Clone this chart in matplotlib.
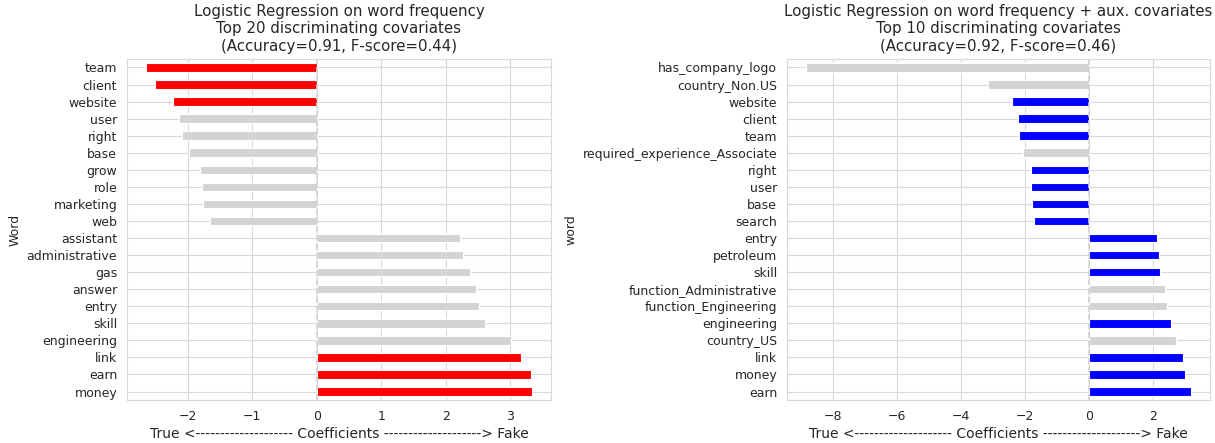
import numpy as np
import matplotlib
matplotlib.use("Agg")
import matplotlib.pyplot as plt
import seaborn as sns

# Coefficients, listed top to bottom as displayed
words_left = ["team", "client", "website", "user", "right", "base", "grow", "role",
              "marketing", "web", "assistant", "administrative", "gas", "answer",
              "entry", "skill", "engineering", "link", "earn", "money"]
coef_left = [-2.64, -2.51, -2.22, -2.14, -2.08, -1.98, -1.80, -1.78, -1.76, -1.65,
             2.22, 2.26, 2.38, 2.47, 2.51, 2.61, 3.01, 3.17, 3.32, 3.33]
highlight_left = ["team", "client", "website", "link", "earn", "money"]

words_right = ["has_company_logo", "country_Non.US", "website", "client", "team",
               "required_experience_Associate", "right", "user", "base", "search",
               "entry", "petroleum", "skill", "function_Administrative",
               "function_Engineering", "engineering", "country_US", "link",
               "money", "earn"]
coef_right = [-8.84, -3.16, -2.39, -2.22, -2.20, -2.05, -1.82, -1.81, -1.77, -1.71,
              2.13, 2.19, 2.23, 2.38, 2.43, 2.58, 2.74, 2.95, 3.01, 3.18]
aux_right = ["has_company_logo", "country_Non.US", "required_experience_Associate",
             "function_Administrative", "function_Engineering", "country_US"]

sns.set_style("whitegrid")
plt.rcParams["font.family"] = ["DejaVu Sans"]

XLABEL = "True <" + "-" * 20 + " Coefficients " + "-" * 20 + "> Fake"


def coef_plot(ax, words, coefs, colors, title, ylabel):
    pos = np.arange(len(words))[::-1]
    ax.barh(pos, coefs, height=0.5, color=colors, edgecolor="white", linewidth=0.8)
    ax.set_yticks(pos)
    ax.set_yticklabels(words, fontsize=9)
    ax.set_ylim(-0.5, len(words) - 0.5)
    span = max(coefs) - min(coefs)
    ax.set_xlim(min(coefs) - 0.05 * span, max(coefs) + 0.05 * span)
    ax.axvline(0, color="lightgrey", linestyle="--", linewidth=1.2)
    ax.tick_params(axis="x", labelsize=9)
    ax.set_title(title, fontsize=10.8)
    ax.set_xlabel(XLABEL, fontsize=10, labelpad=3)
    ax.set_ylabel(ylabel, fontsize=9)
    ax.grid(True, color="#d9d9d9")
    for s in ax.spines.values():
        s.set_color("#d9d9d9")


fig = plt.figure(figsize=(12.15, 4.43), dpi=100)
ax1 = fig.add_axes([0.1045, 0.097, 0.349, 0.770])
ax2 = fig.add_axes([0.6477, 0.097, 0.348, 0.770])

colors_left = ["red" if w in highlight_left else "lightgrey" for w in words_left]
colors_right = ["lightgrey" if w in aux_right else "blue" for w in words_right]

coef_plot(ax1, words_left, coef_left, colors_left,
          "Logistic Regression on word frequency\nTop 20 discriminating covariates\n"
          "(Accuracy=0.91, F-score=0.44)", "Word")
coef_plot(ax2, words_right, coef_right, colors_right,
          "Logistic Regression on word frequency + aux. covariates\n"
          "Top 10 discriminating covariates\n(Accuracy=0.92, F-score=0.46)", "word")

fig.savefig("out.png", dpi=100)
